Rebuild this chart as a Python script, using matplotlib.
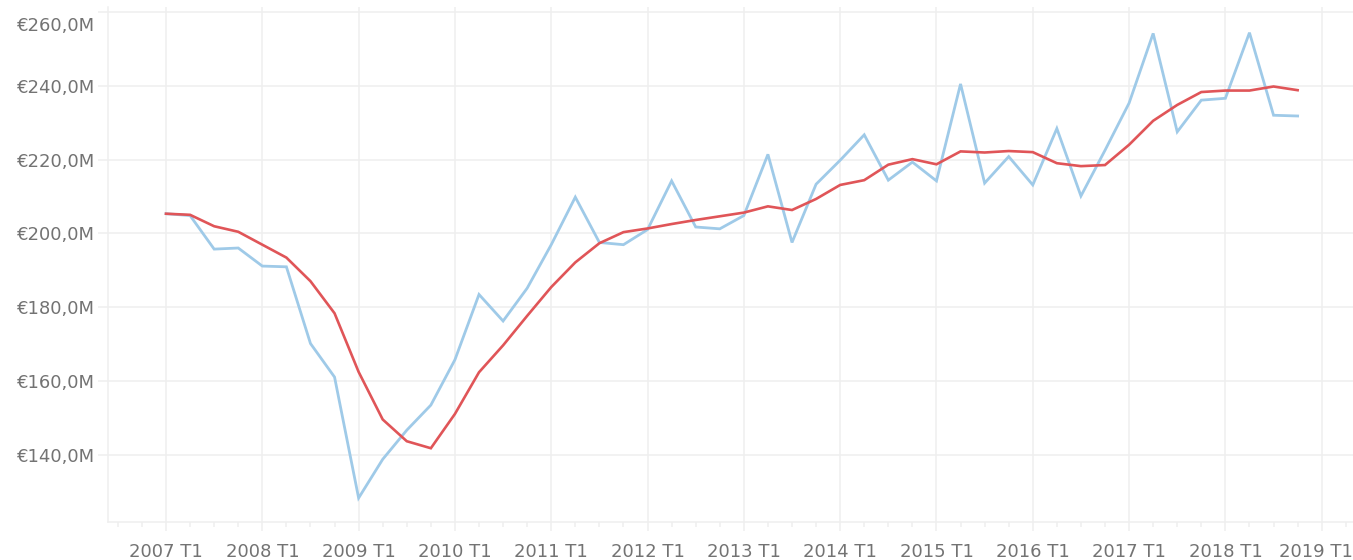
import matplotlib
matplotlib.use("Agg")
import matplotlib.pyplot as plt
import matplotlib.transforms as mtransforms
from matplotlib.ticker import MultipleLocator

# Quarterly values (millions of euros), 2007 T1 .. 2018 T4
quarter_values = [
    205.3, 204.8, 195.7, 196.0, 191.1, 190.9, 170.1, 161.0,
    128.2, 138.7, 146.6, 153.4, 165.7, 183.4, 176.2, 185.1,
    196.9, 209.8, 197.5, 196.9, 201.0, 214.2, 201.7, 201.2,
    204.8, 221.4, 197.5, 213.3, 219.8, 226.7, 214.4, 219.3,
    214.2, 240.5, 213.6, 220.8, 213.1, 228.4, 210.1, 222.5,
    235.3, 254.2, 227.5, 236.1, 236.6, 254.4, 232.0, 231.8,
]
# Moving average (red line)
moving_avg = [
    205.3, 205.0, 201.9, 200.4, 196.9, 193.4, 187.0, 178.3,
    162.4, 149.5, 143.6, 141.7, 151.0, 162.3, 169.6, 177.6,
    185.4, 192.1, 197.3, 200.3, 201.3, 202.5, 203.6, 204.6,
    205.6, 207.3, 206.3, 209.3, 213.1, 214.4, 218.6, 220.1,
    218.7, 222.2, 221.9, 222.3, 222.0, 219.0, 218.2, 218.5,
    224.0, 230.5, 234.8, 238.3, 238.7, 238.7, 239.8, 238.8,
]
year_labels = ["2007 T1", "2008 T1", "2009 T1", "2010 T1", "2011 T1", "2012 T1",
               "2013 T1", "2014 T1", "2015 T1", "2016 T1", "2017 T1", "2018 T1",
               "2019 T1"]
y_ticks = [140, 160, 180, 200, 220, 240, 260]
y_labels = ["€140,0M", "€160,0M", "€180,0M", "€200,0M", "€220,0M", "€240,0M", "€260,0M"]

plt.rcParams['font.family'] = ['DejaVu Sans']

W, H, DPI = 1353, 560, 100
fig = plt.figure(figsize=(W / DPI, H / DPI), dpi=DPI)
ax = fig.add_axes([107.5 / W, (H - 521.5) / H, (W - 107.5) / W, (521.5 - 7) / H])

grid_c = "#efefef"
text_c = "#737373"

x = list(range(len(quarter_values)))
ax.plot(x, quarter_values, color="#9fcae8", lw=2.0, solid_joinstyle="miter", zorder=3)
ax.plot(x, moving_avg, color="#e05558", lw=1.9, solid_joinstyle="miter", zorder=4)

ax.set_xlim(-2.43, 49.3)
ax.set_ylim(121.83, 261.36)

major_x = [4 * i for i in range(len(year_labels))]
ax.set_xticks(major_x)
ax.set_xticklabels(year_labels)
ax.xaxis.set_minor_locator(MultipleLocator(1))
ax.set_yticks(y_ticks)
ax.set_yticklabels(y_labels)

ax.grid(True, which="major", color=grid_c, lw=1.1, zorder=0)
ax.set_axisbelow(True)
for s in ["top", "right"]:
    ax.spines[s].set_visible(False)
for s in ["left", "bottom"]:
    ax.spines[s].set_color(grid_c)
    ax.spines[s].set_linewidth(1.1)

ax.tick_params(axis="x", which="major", length=6.5, color=grid_c, width=1.1,
               pad=9, labelsize=13, labelcolor=text_c)
ax.tick_params(axis="x", which="minor", length=3.5, color=grid_c, width=1.1)
ax.tick_params(axis="y", which="major", length=7, color=grid_c, width=1.1,
               pad=2, labelsize=13, labelcolor=text_c)

fig.canvas.draw()
# top y label is pushed down inside the view, as in the reference
top_lab = ax.get_yticklabels()[-1]
top_lab.set_transform(top_lab.get_transform() +
                      mtransforms.ScaledTranslation(0, -12 / 100, fig.dpi_scale_trans))
# last x label is nudged left so it stays inside the figure
last_lab = ax.get_xticklabels()[-1]
last_lab.set_transform(last_lab.get_transform() +
                       mtransforms.ScaledTranslation(-6 / 100, 0, fig.dpi_scale_trans))

fig.savefig("out.png", dpi=DPI)
